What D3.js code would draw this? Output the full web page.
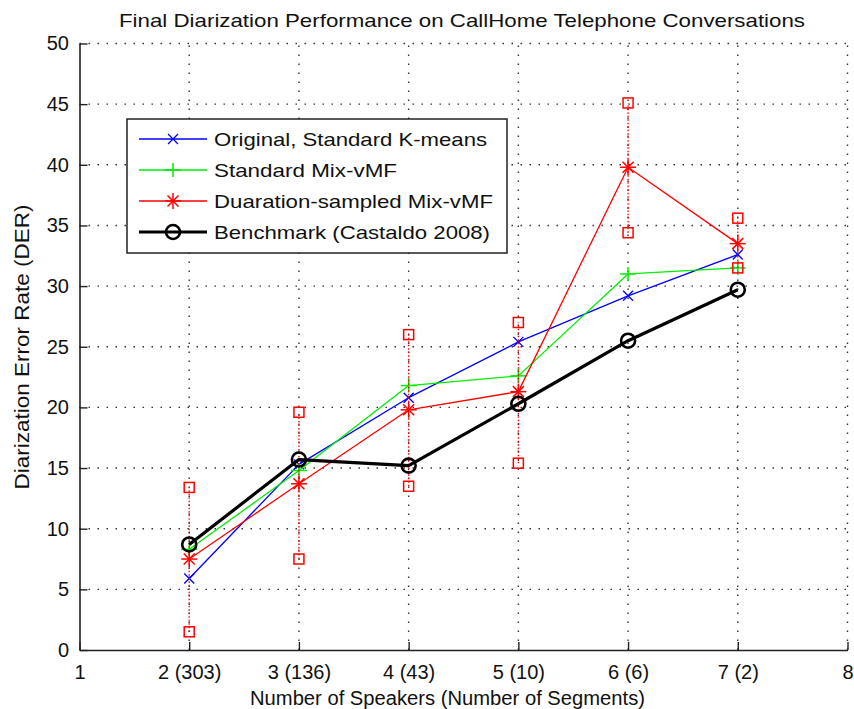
<!DOCTYPE html>
<html>
<head>
<meta charset="utf-8">
<script src="https://cdn.jsdelivr.net/npm/d3@7"></script>
<style>
  html, body { margin: 0; padding: 0; background: #fff; }
  svg { display: block; }
  text { font-family: "Liberation Sans", Arial, Helvetica, sans-serif; fill: #111; }
</style>
</head>
<body>
<svg id="chart" width="854" height="709"></svg>
<script>
// Number of speakers on the x axis, with segment counts in the tick labels
const speakers = [2, 3, 4, 5, 6, 7];
const xTickValues = [1, 2, 3, 4, 5, 6, 7, 8];
const xTickLabels = ["1", "2 (303)", "3 (136)", "4 (43)", "5 (10)", "6 (6)", "7 (2)", "8"];
const yTickValues = [0, 5, 10, 15, 20, 25, 30, 35, 40, 45, 50];

// Diarization error rate (%) per method
const kmeans   = [5.9, 15.3, 20.8, 25.4, 29.2, 32.6];
const mixVMF   = [8.3, 14.8, 21.8, 22.6, 31.0, 31.5];
const durVMF   = [7.5, 13.7, 19.8, 21.3, 39.8, 33.5];
const castaldo = [8.7, 15.7, 15.2, 20.3, 25.5, 29.7];

// Spread of the duration-sampled runs (lower / upper bounds)
const durLow  = [1.5, 7.5, 13.5, 15.4, 34.4, 31.5];
const durHigh = [13.4, 19.6, 26.0, 27.0, 45.1, 35.6];

const seriesNames = [
  "Original, Standard K-means",
  "Standard Mix-vMF",
  "Duaration-sampled Mix-vMF",
  "Benchmark (Castaldo 2008)"
];

const svg = d3.select("#chart");
const x = d3.scaleLinear().domain([1, 8]).range([79.5, 847.5]);
const y = d3.scaleLinear().domain([0, 50]).range([650, 43.5]);

// Dotted grid
const grid = svg.append("g");
grid.selectAll("line.h").data(yTickValues.slice(1)).join("line")
  .attr("x1", x(1)).attr("x2", x(8))
  .attr("y1", d => y(d)).attr("y2", d => y(d))
  .attr("stroke", "#333").attr("stroke-width", 1.4)
  .attr("stroke-dasharray", "1.5,7.5");
grid.selectAll("line.v").data(xTickValues.slice(1)).join("line")
  .attr("x1", d => x(d)).attr("x2", d => x(d))
  .attr("y1", y(0)).attr("y2", y(50))
  .attr("stroke", "#333").attr("stroke-width", 1.4)
  .attr("stroke-dasharray", "1.5,7.5");

// Axes (left and bottom only), ticks pointing inward
const xAxis = d3.axisBottom(x).tickValues(xTickValues)
  .tickFormat((d, i) => xTickLabels[i]).tickSizeInner(-8).tickSizeOuter(0);
const yAxis = d3.axisLeft(y).tickValues(yTickValues)
  .tickSizeInner(-8).tickSizeOuter(0).tickPadding(10.5);

const gx = svg.append("g").attr("transform", `translate(0,${y(0)})`).call(xAxis);
const gy = svg.append("g").attr("transform", `translate(${x(1)},0)`).call(yAxis);
[gx, gy].forEach(g => {
  g.select(".domain").attr("stroke", "#222").attr("stroke-width", 1.6);
  g.selectAll(".tick line").attr("stroke", "#222").attr("stroke-width", 1.4);
  g.selectAll(".tick text").attr("font-size", 20)
    .attr("font-family", "'Liberation Sans', Arial, sans-serif").attr("fill", "#111");
});
gx.selectAll(".tick text").attr("y", 29).attr("dy", 0);

// Marker shapes
function drawMarker(g, kind, cx, cy, color) {
  const m = g.append("g").attr("transform", `translate(${cx},${cy})`)
    .attr("stroke", color).attr("fill", "none");
  if (kind === "x") {
    m.attr("stroke-width", 1.3);
    m.append("line").attr("x1", -5).attr("y1", -5).attr("x2", 5).attr("y2", 5);
    m.append("line").attr("x1", -5).attr("y1", 5).attr("x2", 5).attr("y2", -5);
  } else if (kind === "+") {
    m.attr("stroke-width", 1.5);
    m.append("line").attr("x1", -8).attr("y1", 0).attr("x2", 8).attr("y2", 0);
    m.append("line").attr("x1", 0).attr("y1", -7).attr("x2", 0).attr("y2", 7);
  } else if (kind === "*") {
    m.attr("stroke-width", 1.5);
    m.append("line").attr("x1", -8).attr("y1", 0).attr("x2", 8).attr("y2", 0);
    m.append("line").attr("x1", 0).attr("y1", -8).attr("x2", 0).attr("y2", 8);
    m.append("line").attr("x1", -5.5).attr("y1", -5.5).attr("x2", 5.5).attr("y2", 5.5);
    m.append("line").attr("x1", -5.5).attr("y1", 5.5).attr("x2", 5.5).attr("y2", -5.5);
  } else if (kind === "o") {
    m.attr("stroke-width", 2.6);
    m.append("circle").attr("r", 7);
  } else if (kind === "s") {
    m.attr("stroke-width", 1.5);
    m.append("rect").attr("x", -5).attr("y", -5).attr("width", 10).attr("height", 10);
  }
}

const line = d3.line().x(d => x(d[0])).y(d => y(d[1]));

const series = [
  { values: kmeans,   color: "#0000ff", width: 1.3, marker: "x" },
  { values: mixVMF,   color: "#00ee00", width: 1.3, marker: "+" },
  { values: durVMF,   color: "#ff0000", width: 1.3, marker: "*" },
  { values: castaldo, color: "#000000", width: 3.2, marker: "o" }
];

const plot = svg.append("g");

function drawSeries(s) {
  const pts = speakers.map((sp, i) => [sp, s.values[i]]);
  plot.append("path").datum(pts).attr("d", line)
    .attr("fill", "none").attr("stroke", s.color).attr("stroke-width", s.width)
    .attr("stroke-linejoin", "round");
  pts.forEach(p => drawMarker(plot, s.marker, x(p[0]), y(p[1]), s.color));
}

drawSeries(series[0]);
drawSeries(series[1]);

// Red dotted range bars with square end markers
speakers.forEach((sp, i) => {
  plot.append("line")
    .attr("x1", x(sp)).attr("x2", x(sp))
    .attr("y1", y(durLow[i])).attr("y2", y(durHigh[i]))
    .attr("stroke", "#ff0000").attr("stroke-width", 1.3)
    .attr("stroke-dasharray", "1.5,2");
  drawMarker(plot, "s", x(sp), y(durLow[i]), "#ff0000");
  drawMarker(plot, "s", x(sp), y(durHigh[i]), "#ff0000");
});

drawSeries(series[2]);
drawSeries(series[3]);

// Title and axis labels
svg.append("text").attr("x", 462).attr("y", 26.5).attr("text-anchor", "middle")
  .attr("font-size", 18.5).attr("textLength", 686).attr("lengthAdjust", "spacingAndGlyphs")
  .text("Final Diarization Performance on CallHome Telephone Conversations");
svg.append("text").attr("x", 447.5).attr("y", 705).attr("text-anchor", "middle")
  .attr("font-size", 19.5).attr("textLength", 395).attr("lengthAdjust", "spacingAndGlyphs")
  .text("Number of Speakers (Number of Segments)");
svg.append("text").attr("transform", "translate(29,347) rotate(-90)")
  .attr("text-anchor", "middle")
  .attr("font-size", 19.5).attr("textLength", 285).attr("lengthAdjust", "spacingAndGlyphs")
  .text("Diarization Error Rate (DER)");

// Legend
const legend = svg.append("g");
legend.append("rect").attr("x", 127).attr("y", 119).attr("width", 380).attr("height", 134)
  .attr("fill", "#fff").attr("stroke", "#222").attr("stroke-width", 1.5);
const rowY = [139, 170, 201, 232];
const textWidths = [273, 183, 279, 276];
series.forEach((s, i) => {
  legend.append("line").attr("x1", 139).attr("x2", 207)
    .attr("y1", rowY[i]).attr("y2", rowY[i])
    .attr("stroke", s.color).attr("stroke-width", s.width);
  drawMarker(legend, s.marker, 173, rowY[i], s.color);
  legend.append("text").attr("x", 214).attr("y", rowY[i]).attr("dy", "0.36em")
    .attr("font-size", 18.5).attr("textLength", textWidths[i]).attr("lengthAdjust", "spacingAndGlyphs")
    .text(seriesNames[i]);
});
</script>
</body>
</html>
